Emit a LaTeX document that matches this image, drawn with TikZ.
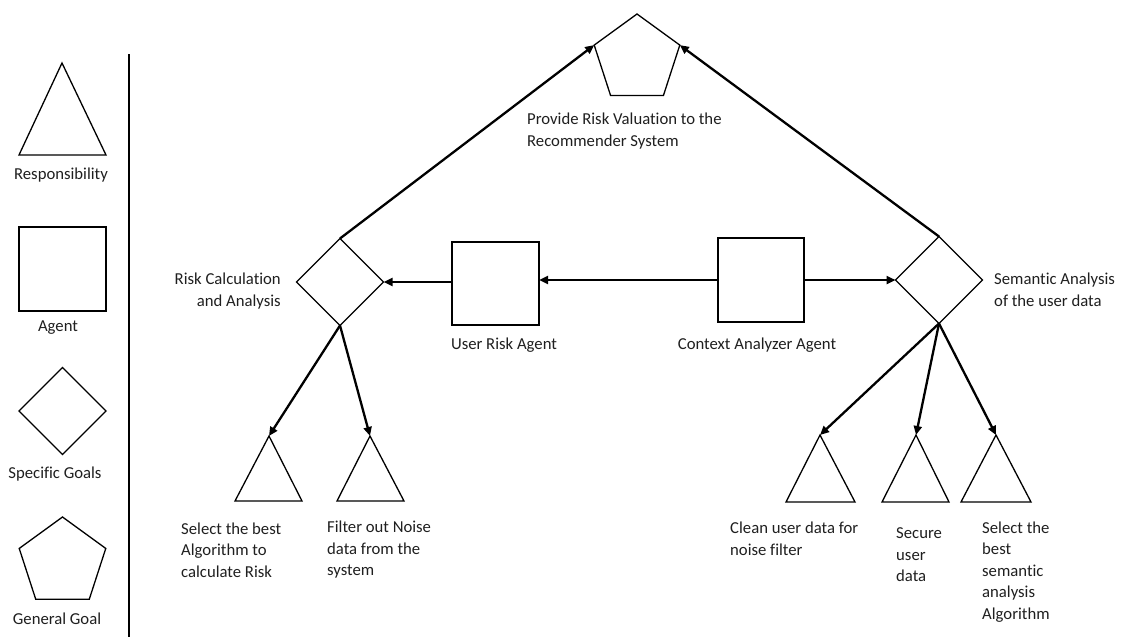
\documentclass[tikz,border=0pt]{standalone}
\usepackage{fontspec}
\setmainfont{Carlito}[Ligatures=NoCommon]
\usetikzlibrary{shapes.geometric,arrows.meta}
\begin{document}
\begin{tikzpicture}[x=1pt,y=-1pt,
  shp/.style={draw, line width=1.3pt, inner sep=0pt, outer sep=0pt},
  agentbox/.style={shp, rectangle, minimum width=87pt, minimum height=84pt},
  goalnode/.style={shp, diamond, minimum width=87pt, minimum height=87pt},
  gengoal/.style={shp, regular polygon, regular polygon sides=5, minimum size=90pt},
  resp/.style={line width=1.3pt, line join=miter},
  lbl/.style={inner sep=0pt, font=\fontsize{16.7}{21.5}\selectfont, text=black!88},
  link/.style={line width=2.3pt, -{Triangle[length=9pt,width=8pt]}}
]
\useasboundingbox (0,0) rectangle (1121,637);

% ---------- legend ----------
\draw[resp] (62,63) coordinate (lgTri) -- (106,155) -- (19,155) -- cycle;
\node[lbl] (lgTriTxt) at (61,175) {Responsibility};
\node[agentbox] (lgBox) at (62.5,269) {};
\node[lbl] (lgBoxTxt) at (58,328) {Agent};
\node[goalnode] (lgDia) at (62.5,411) {};
\node[lbl] (lgDiaTxt) at (55,474) {Specific Goals};
\node[gengoal, minimum size=91pt] (lgPen) at (62.5,562.5) {};
\node[lbl] (lgPenTxt) at (57,619) {General Goal};
\draw[line width=2.5pt] (129,54) coordinate (sepTop) -- (129,637) coordinate (sepBot);

% ---------- general goal ----------
\node[gengoal] (P) at (637,59) {};
\node[lbl, anchor=west, align=left] (PTxt) at (527,131) {Provide Risk Valuation to the\\Recommender System};

% ---------- specific goals ----------
\node[goalnode] (L) at (340,282) {};
\node[lbl, anchor=east, align=right] (LTxt) at (281,291) {Risk Calculation\\and Analysis};
\node[goalnode] (R) at (939,280) {};
\node[lbl, anchor=west, align=left] (RTxt) at (994,290) {Semantic Analysis\\of the user data};

% ---------- agents ----------
\node[agentbox, minimum height=83pt] (U) at (495.5,283.5) {};
\node[lbl] (UTxt) at (504,345) {User Risk Agent};
\node[agentbox, minimum width=86pt] (C) at (761,280) {};
\node[lbl] (CTxt) at (757,345) {Context Analyzer Agent};

% ---------- responsibilities ----------
\draw[resp] (269,436) coordinate (t1) -- (302,501) -- (235,501) -- cycle;
\draw[resp] (370,436) coordinate (t2) -- (404,501) -- (337,501) -- cycle;
\draw[resp] (820,435) coordinate (t3) -- (855,502) -- (786,502) -- cycle;
\draw[resp] (916,435) coordinate (t4) -- (949,502) -- (882,502) -- cycle;
\draw[resp] (996,435) coordinate (t5) -- (1031,502) -- (961,502) -- cycle;

\node[lbl, anchor=west, align=left] (t1Txt) at (181,550) {Select the best\\Algorithm to\\calculate Risk};
\node[lbl, anchor=west, align=left] (t2Txt) at (327,550) {Filter out Noise\\data from the\\system};
\node[lbl, anchor=west, align=left] (t3Txt) at (730,539) {Clean user data for\\noise filter};
\node[lbl, anchor=west, align=left] (t4Txt) at (896,555) {Secure\\user\\data};
\node[lbl, anchor=west, align=left] (t5Txt) at (982,572) {Select the\\best\\semantic\\analysis\\Algorithm};

% ---------- connectors ----------
\draw[link] (L.north) -- (P.corner 2);
\draw[link] (R.north) -- (P.corner 5);
\draw[link] (C.west) -- (U.east |- C.west);
\draw[link] (U.west |- L.east) -- (L.east);
\draw[link] (C.east) -- (R.west);
\draw[link] (L.south) -- (t1);
\draw[link] (L.south) -- (t2);
\draw[link] (R.south) -- (t3);
\draw[link] (R.south) -- (t4);
\draw[link] (R.south) -- (t5);
\end{tikzpicture}
\end{document}
